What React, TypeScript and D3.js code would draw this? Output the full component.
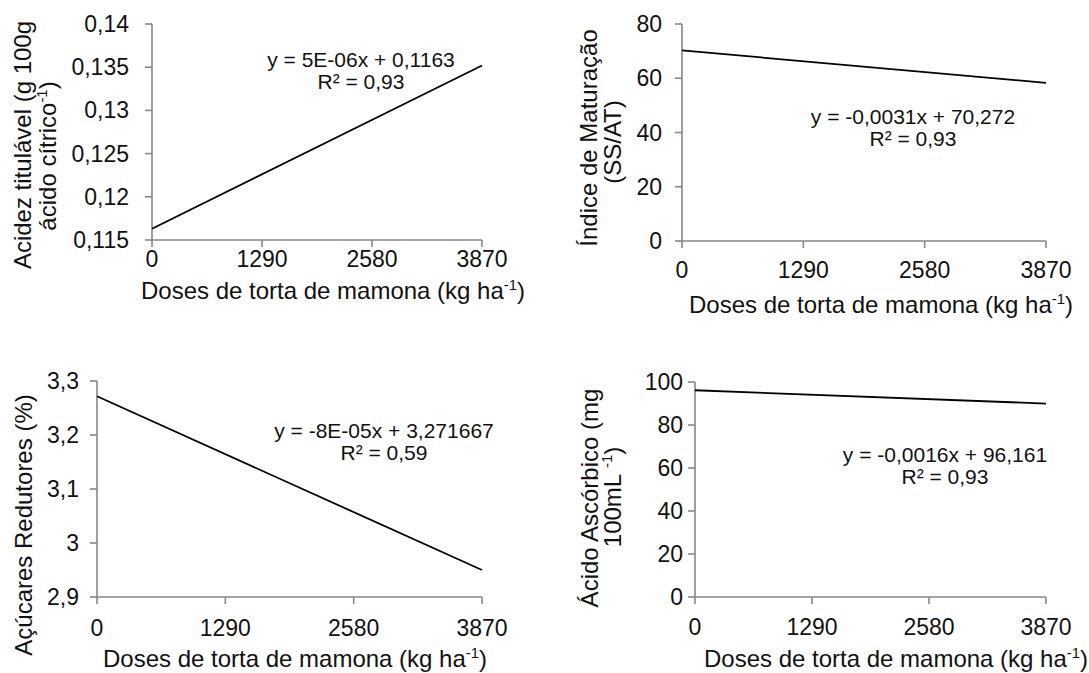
import * as d3 from 'd3'

// regression line end points (x = 0 and x = 3870)
const doseTicks = [0, 1290, 2580, 3870]
const lineDoses = [0, 3870]

const acidezLine = [0.1163, 0.1352]
const maturacaoLine = [70.27, 58.3]
const acucaresLine = [3.2717, 2.95]
const ascorbicoLine = [96.16, 89.97]

const acidezTicks = [0.115, 0.12, 0.125, 0.13, 0.135, 0.14]
const acidezLabels = ['0,115', '0,12', '0,125', '0,13', '0,135', '0,14']
const maturacaoTicks = [0, 20, 40, 60, 80]
const maturacaoLabels = ['0', '20', '40', '60', '80']
const acucaresTicks = [2.9, 3, 3.1, 3.2, 3.3]
const acucaresLabels = ['2,9', '3', '3,1', '3,2', '3,3']
const ascorbicoTicks = [0, 20, 40, 60, 80, 100]
const ascorbicoLabels = ['0', '20', '40', '60', '80', '100']

const FONT = '"Liberation Sans", Arial, sans-serif'
const AXIS = '#878787'
const INK = '#111'

type Part = { t: string; sup?: boolean }

function Parts({ parts, size }: { parts: Part[]; size: number }) {
  // superscripts shift up, then the next normal part drops back down
  let raised = false
  return (
    <>
      {parts.map((p, i) => {
        let dy = 0
        if (p.sup && !raised) { dy = -size * 0.38; raised = true }
        else if (!p.sup && raised) { dy = size * 0.38; raised = false }
        return (
          <tspan key={i} dy={dy} fontSize={p.sup ? size * 0.62 : size}>{p.t}</tspan>
        )
      })}
    </>
  )
}

function Panel(props: {
  xr: [number, number]; yr: [number, number]; domain: [number, number]
  ticks: number[]; labels: string[]; values: number[]
  yLabelX: number; xLabelY: number
  xTitle: [number, number]
  yTitle: { x: number; y: number; parts: Part[] }[]
  eq: string; r2: string; eqX: number; eqY: number
}) {
  const x = d3.scaleLinear().domain([0, 3870]).range(props.xr)
  const y = d3.scaleLinear().domain(props.domain).range(props.yr)
  const line = d3.line<number>().x((_, i) => x(lineDoses[i])).y(d => y(d))
  const x0 = props.xr[0]
  const yBase = props.yr[0]

  return (
    <g fontFamily={FONT} fill={INK}>
      {/* y axis */}
      <line x1={x0} x2={x0} y1={y(props.domain[0])} y2={y(props.domain[1])} stroke={AXIS} strokeWidth={1.6} />
      {props.ticks.map((t, i) => (
        <g key={'y' + i}>
          <line x1={x0 - 7} x2={x0} y1={y(t)} y2={y(t)} stroke={AXIS} strokeWidth={1.6} />
          <text x={props.yLabelX} y={y(t)} dy="0.35em" textAnchor="end" fontSize={23}>{props.labels[i]}</text>
        </g>
      ))}
      {/* x axis */}
      <line x1={x0} x2={props.xr[1]} y1={yBase} y2={yBase} stroke={AXIS} strokeWidth={1.6} />
      {doseTicks.map(t => (
        <g key={'x' + t}>
          <line x1={x(t)} x2={x(t)} y1={yBase} y2={yBase + 7} stroke={AXIS} strokeWidth={1.6} />
          <text x={x(t)} y={props.xLabelY} textAnchor="middle" fontSize={23}>{t}</text>
        </g>
      ))}
      <path d={line(props.values) || ''} fill="none" stroke="#000" strokeWidth={1.8} />
      <text x={props.eqX} y={props.eqY} textAnchor="middle" fontSize={21}>{props.eq}</text>
      <text x={props.eqX} y={props.eqY + 22} textAnchor="middle" fontSize={21}>{props.r2}</text>
      <text x={props.xTitle[0]} y={props.xTitle[1]} textAnchor="middle" fontSize={24}>
        <Parts size={24} parts={[{ t: 'Doses de torta de mamona (kg ha' }, { t: '-1', sup: true }, { t: ')' }]} />
      </text>
      {props.yTitle.map((l, i) => (
        <text key={'t' + i} transform={`translate(${l.x},${l.y}) rotate(-90)`} textAnchor="middle" fontSize={24}>
          <Parts size={24} parts={l.parts} />
        </text>
      ))}
    </g>
  )
}

export default function App() {
  return (
    <svg width={1089} height={673} style={{ position: 'absolute', left: 0, top: 0, background: '#fff' }}>
      <Panel
        xr={[152, 482]} yr={[240, 24]} domain={[0.115, 0.14]}
        ticks={acidezTicks} labels={acidezLabels} values={acidezLine}
        yLabelX={129} xLabelY={267} xTitle={[333, 299]}
        yTitle={[
          { x: 31, y: 145, parts: [{ t: 'Acidez titulável (g 100g' }] },
          { x: 56, y: 156, parts: [{ t: 'ácido cítrico' }, { t: '-1', sup: true }, { t: ')' }] },
        ]}
        eq="y = 5E-06x + 0,1163" r2="R² = 0,93" eqX={361} eqY={67}
      />
      <Panel
        xr={[682, 1046]} yr={[241, 24]} domain={[0, 80]}
        ticks={maturacaoTicks} labels={maturacaoLabels} values={maturacaoLine}
        yLabelX={662} xLabelY={278} xTitle={[881, 313]}
        yTitle={[
          { x: 597, y: 138, parts: [{ t: 'Índice de Maturação' }] },
          { x: 621, y: 142, parts: [{ t: '(SS/AT)' }] },
        ]}
        eq="y = -0,0031x + 70,272" r2="R² = 0,93" eqX={913} eqY={124}
      />
      <Panel
        xr={[97, 482]} yr={[597, 381]} domain={[2.9, 3.3]}
        ticks={acucaresTicks} labels={acucaresLabels} values={acucaresLine}
        yLabelX={79} xLabelY={636} xTitle={[295, 667]}
        yTitle={[{ x: 32, y: 525, parts: [{ t: 'Açúcares Redutores (%)' }] }]}
        eq="y = -8E-05x + 3,271667" r2="R² = 0,59" eqX={384} eqY={438}
      />
      <Panel
        xr={[695, 1046]} yr={[597, 382]} domain={[0, 100]}
        ticks={ascorbicoTicks} labels={ascorbicoLabels} values={ascorbicoLine}
        yLabelX={683} xLabelY={635} xTitle={[896, 667]}
        yTitle={[
          { x: 598, y: 498, parts: [{ t: 'Ácido Ascórbico (mg' }] },
          { x: 621, y: 497, parts: [{ t: '100mL ' }, { t: '-1', sup: true }, { t: ')' }] },
        ]}
        eq="y = -0,0016x + 96,161" r2="R² = 0,93" eqX={945} eqY={462}
      />
    </svg>
  )
}
